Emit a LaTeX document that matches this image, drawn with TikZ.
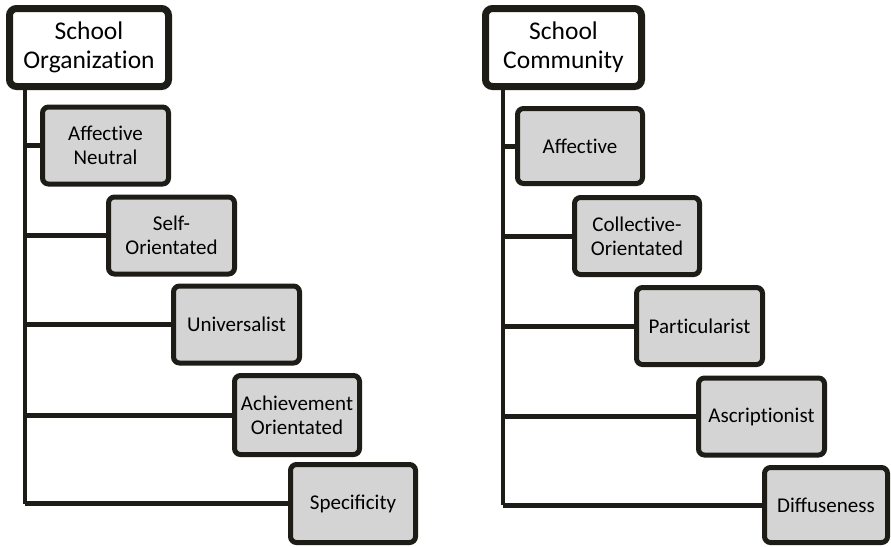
\documentclass[tikz,border=0pt]{standalone}
\usepackage{fontspec}
\setmainfont{Carlito}
% zero kern that keeps "t" and "i" as separate glyphs
\newcommand\nolig{\kern0pt\relax}
\definecolor{boxline}{RGB}{30,28,22}
\definecolor{boxfill}{RGB}{212,212,212}
\begin{document}
\begin{tikzpicture}[x=1pt,y=-1pt,
  rootbox/.style={draw=boxline, line width=7pt, fill=white, rounded corners=7pt,
    align=center, inner sep=0pt, minimum height=78pt,
    font=\fontsize{25.5}{29}\selectfont},
  itembox/.style={draw=boxline, line width=5pt, fill=boxfill, rounded corners=6pt,
    align=center, inner sep=0pt, minimum width=126pt, minimum height=77pt,
    font=\fontsize{21}{24}\selectfont},
  trunk/.style={draw=boxline, line width=4.5pt},
  branch/.style={draw=boxline, line width=5pt}]
\useasboundingbox (0,0) rectangle (891,546);

% left tree
\node[rootbox, minimum width=159pt] (rootL) at (89,47.5) {School\\Organizat\nolig ion};
\node[itembox] (an) at (105.5,145.5) {Affect\nolig ive\\Neutral};
\node[itembox] (so) at (171.5,235.5) {Self-\\Orientated};
\node[itembox] (un) at (236.5,324.5) {Universalist};
\node[itembox, minimum width=125pt, minimum height=79pt] (ao) at (297,415) {Achievement\\Orientated};
\node[itembox, minimum width=125pt, minimum height=78pt] (sp) at (353,503.5) {Specificity};
\coordinate (ltr) at (25,0);

% right tree
\node[rootbox, minimum width=156pt] (rootR) at (563.5,47.5) {School\\Community};
\node[itembox, minimum width=125pt, minimum height=75pt] (af) at (580,146) {Affect\nolig ive};
\node[itembox, minimum width=125pt] (co) at (637,236) {Collect\nolig ive-\\Orientated};
\node[itembox] (pa) at (699.5,326) {Part\nolig icularist};
\node[itembox] (as) at (761.5,416.5) {Ascript\nolig ionist};
\node[itembox, minimum width=123pt, minimum height=75pt] (di) at (826,505) {Diffuseness};
\coordinate (rtr) at (503,0);

% trunks and branches
\draw[trunk] (rootL.south -| ltr) -- (ltr |- sp.west);
\foreach \n in {an,so,un,ao,sp}
  \draw[branch] (\n.west -| ltr) -- (\n.west);
\draw[trunk] (rootR.south -| rtr) -- (rtr |- di.west);
\foreach \n in {af,co,pa,as,di}
  \draw[branch] (\n.west -| rtr) -- (\n.west);
\end{tikzpicture}
\end{document}
